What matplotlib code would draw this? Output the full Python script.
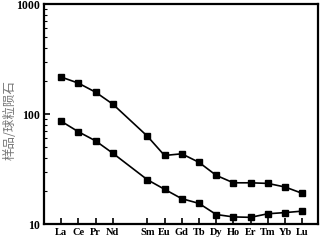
import matplotlib
matplotlib.use("Agg")
import matplotlib.pyplot as plt
from matplotlib.ticker import FixedLocator, LogLocator, NullFormatter

elements = ['La', 'Ce', 'Pr', 'Nd', 'Pm', 'Sm', 'Eu', 'Gd', 'Tb', 'Dy', 'Ho', 'Er', 'Tm', 'Yb', 'Lu']
upper = [217, 191, 158, 123, None, 63, 42, 43.5, 36.4, 27.7, 23.7, 23.7, 23.4, 21.7, 19.0]
lower = [86, 69, 57, 44, None, 25.3, 20.7, 17.0, 15.4, 12.2, 11.6, 11.5, 12.4, 12.7, 13.1]

fig = plt.figure(figsize=(3.21, 2.41), dpi=100)
ax = fig.add_axes([0.137, 0.0705, 0.853, 0.9125])

for series in (upper, lower):
    xs = [i for i, v in enumerate(series) if v is not None]
    ys = [v for v in series if v is not None]
    ax.plot(xs, ys, color='black', lw=1.2, marker='s', markersize=3.8)

ax.set_yscale('log')
ax.set_ylim(10, 1000)
ax.set_xlim(-1.0, 14.9)

ticks = [i for i, e in enumerate(elements) if e != 'Pm']
ax.xaxis.set_major_locator(FixedLocator(ticks))
ax.set_xticklabels([elements[i] for i in ticks])
ax.yaxis.set_minor_locator(LogLocator(base=10, subs=range(2, 10)))
ax.yaxis.set_minor_formatter(NullFormatter())
ax.set_yticks([10, 100, 1000])
ax.set_yticklabels(['10', '100', '1000'])

ax.tick_params(axis='both', which='major', direction='in', length=4, width=1.2, pad=3)
ax.tick_params(axis='y', which='minor', direction='in', length=2, width=0.8)
for lab in ax.get_xticklabels():
    lab.set_fontfamily('Liberation Serif')
    lab.set_fontweight('bold')
    lab.set_fontsize(7.5)
for lab in ax.get_yticklabels():
    lab.set_fontfamily('Liberation Serif')
    lab.set_fontweight('bold')
    lab.set_fontsize(8.5)

for s in ax.spines.values():
    s.set_linewidth(1.6)

fig.text(0.03, 0.5, '样品/球粒陨石', rotation=90, va='center', ha='center',
         fontsize=9, color='#777777', family=['Noto Sans CJK SC', 'DejaVu Sans'])

fig.savefig('out.png', dpi=100)
